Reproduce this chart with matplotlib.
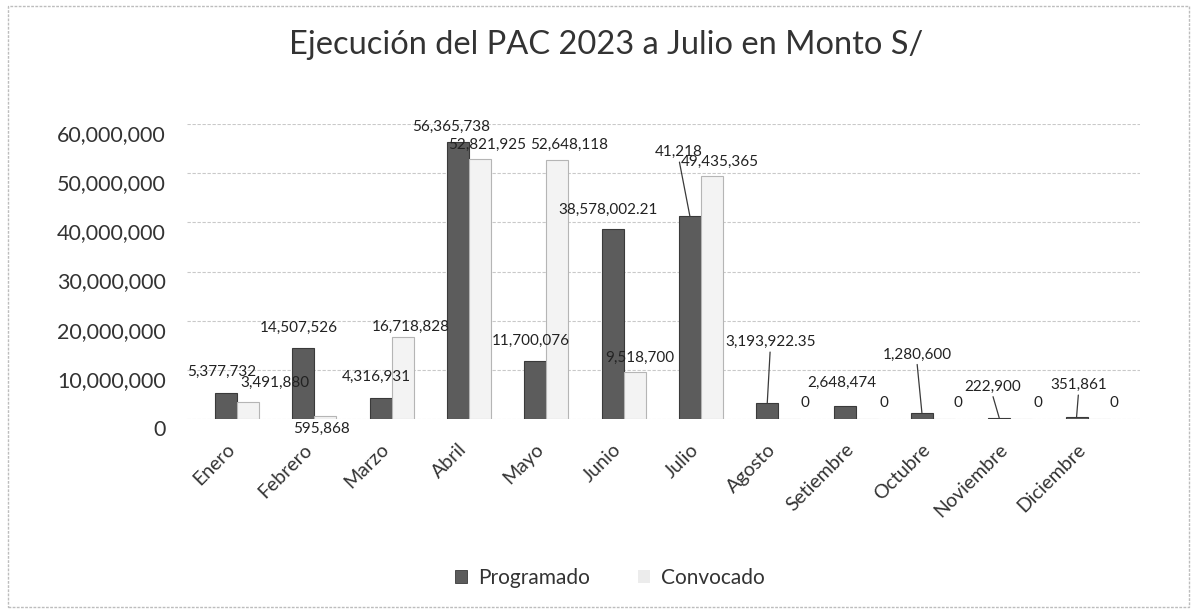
import matplotlib
matplotlib.use("Agg")
import matplotlib.pyplot as plt
from matplotlib.transforms import ScaledTranslation
from matplotlib.patches import Rectangle, Patch
import numpy as np

# ---------------- data ----------------
meses = ["Enero", "Febrero", "Marzo", "Abril", "Mayo", "Junio", "Julio",
         "Agosto", "Setiembre", "Octubre", "Noviembre", "Diciembre"]
programado = [5377732, 14507526, 4316931, 56365738, 11700076, 38578002.21,
              41218000, 3193922.35, 2648474, 1280600, 222900, 351861]
convocado = [3491880, 595868, 16718828, 52821925, 52648118, 9518700,
             49435365, 0, 0, 0, 0, 0]
programado_labels = ["5,377,732", "14,507,526", "4,316,931", "56,365,738",
                     "11,700,076", "38,578,002.21", "41,218", "3,193,922.35",
                     "2,648,474", "1,280,600", "222,900", "351,861"]
convocado_labels = ["3,491,880", "595,868", "16,718,828", "52,821,925",
                    "52,648,118", "9,518,700", "49,435,365", "0", "0", "0",
                    "0", "0"]
yticks = [0, 10000000, 20000000, 30000000, 40000000, 50000000, 60000000]
ytick_labels = ["0", "10,000,000", "20,000,000", "30,000,000", "40,000,000",
                "50,000,000", "60,000,000"]
series_names = ["Programado", "Convocado"]
title = "Ejecución del PAC 2023 a Julio en Monto S/"

# ---------------- layout / style ----------------
FONT = ["Lato", "DejaVu Sans"]
plt.rcParams["font.family"] = FONT
col_prog = "#5c5c5c"
col_conv = "#f3f3f3"

# label offsets in pixels (dx, dy up) relative to bar top
prog_off = [(-4, 21), (-4, 20), (-4, 21), (-7, 15), (-4, 21), (-5, 19),
            (-11, 64), (3, 61), (-3, 23), (-5, 58), (-7, 31), (2, 32)]
prog_leader = [False, False, False, False, False, False,
               True, True, False, True, True, True]
conv_off = [(27, 19), (-4, -13), (8, 10), (7, 14), (12, 15), (5, 14),
            (8, 14), (16, 16), (17, 16), (14, 16), (17, 16), (15, 16)]

fig = plt.figure(figsize=(11.93, 6.16), dpi=100)
ax = fig.add_axes([0.1567, 0.3198, 0.799, 0.4789])

x = np.arange(len(meses))
w = 0.285
ax.bar(x - w / 2, programado, width=w, color=col_prog, edgecolor="#3a3a3a",
       linewidth=0.8, zorder=3)
ax.bar(x + w / 2, convocado, width=w, color=col_conv, edgecolor="#b5b5b5",
       linewidth=0.8, zorder=3)

ax.set_xlim(-0.647, 11.68)
ax.set_ylim(0, 60000000)
ax.set_yticks(yticks)
ax.set_yticklabels(ytick_labels, fontsize=15.5, color="#333333")
ax.tick_params(axis="y", length=0, pad=15)
ax.set_xticks(x)
ax.set_xticklabels(meses, rotation=45, ha="right", va="center",
                   rotation_mode="anchor", fontsize=14, color="#333333")
ax.tick_params(axis="x", length=0, pad=20)

for lab in ax.get_yticklabels():
    lab.set_transform(lab.get_transform() +
                      ScaledTranslation(0, -9 / 100, fig.dpi_scale_trans))
for lab in ax.get_xticklabels():
    lab.set_transform(lab.get_transform() +
                      ScaledTranslation(-5 / 100, 0, fig.dpi_scale_trans))

ax.grid(axis="y", color="#c9c9c9", linewidth=0.8, linestyle=(0, (3, 1.5)),
        zorder=0)
ax.set_axisbelow(True)
for s in ax.spines.values():
    s.set_visible(False)

for i in range(len(meses)):
    dx, dy = prog_off[i]
    ap = None
    if prog_leader[i]:
        ap = dict(arrowstyle="-", color="#3a3a3a", lw=0.9, shrinkA=0,
                  shrinkB=0, relpos=(0.5, 0.0))
    ax.annotate(programado_labels[i], xy=(x[i] - w / 2, programado[i]),
                xytext=(dx, dy), textcoords="offset pixels", ha="center",
                va="center", fontsize=11, color="#222222", zorder=5,
                arrowprops=ap, annotation_clip=False)
for i in range(len(meses)):
    dx, dy = conv_off[i]
    ax.annotate(convocado_labels[i], xy=(x[i] + w / 2, convocado[i]),
                xytext=(dx, dy), textcoords="offset pixels", ha="center",
                va="center", fontsize=11, color="#222222", zorder=6,
                annotation_clip=False)

fig.text(0.508, 0.927, title, ha="center", va="center", fontsize=23.5,
         color="#333333")

handles = [Patch(facecolor=col_prog, edgecolor="#3a3a3a", linewidth=0.6),
           Patch(facecolor="#ececec", edgecolor="none")]
fig.legend(handles, series_names, loc="center", bbox_to_anchor=(0.511, 0.062),
           ncol=2, frameon=False, fontsize=15, handlelength=0.6,
           handleheight=0.6, handletextpad=0.5, columnspacing=2.3,
           labelcolor="#333333")

fig.patches.append(Rectangle((0.007, 0.014), 0.99, 0.976,
                             transform=fig.transFigure, fill=False,
                             edgecolor="#bdbdbd", linewidth=1.0,
                             linestyle=(0, (2, 1))))

fig.savefig("out.png", dpi=100)
